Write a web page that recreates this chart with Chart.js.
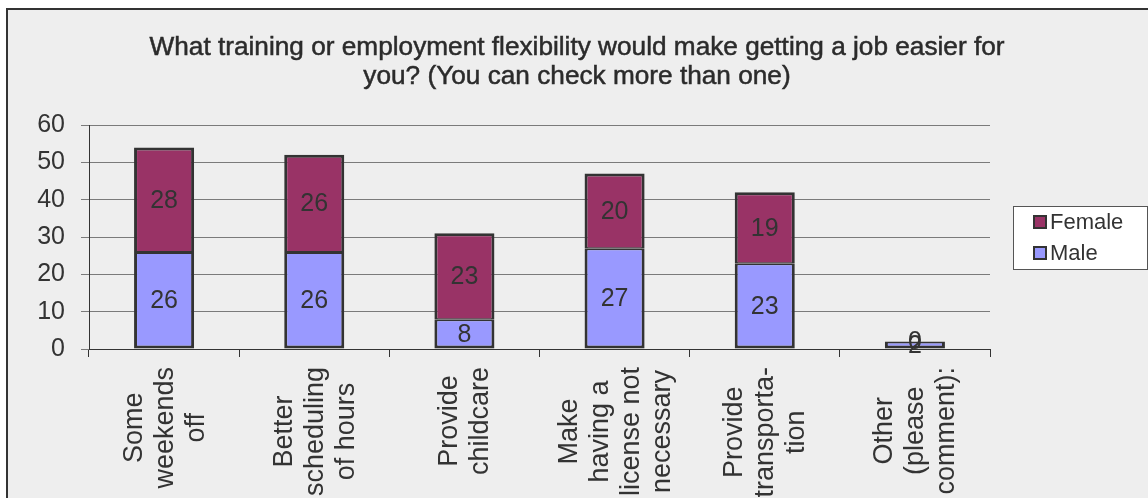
<!DOCTYPE html>
<html><head><meta charset="utf-8">
<script src="https://cdn.jsdelivr.net/npm/chart.js@4.4.1/dist/chart.umd.min.js"></script>
<style>
html,body{margin:0;padding:0;background:#fff;}
#wrap{position:relative;width:1148px;height:498px;overflow:hidden;}
#panel{position:absolute;left:6px;top:8px;width:1200px;height:600px;background:#eeeeee;border-top:2px solid #333;border-left:2px solid #333;}
canvas{position:absolute;left:0;top:0;}
</style></head><body>
<div id="wrap"><div id="panel"></div><canvas id="c" width="1148" height="498"></canvas></div>
<script>
const categories = [["Some","weekends","off"],["Better","scheduling","of hours"],["Provide","childcare"],["Make","having a","license not","necessary"],["Provide","transporta-","tion"],["Other","(please","comment):"]];
const maleValues = [26,26,8,27,23,2];
const femaleValues = [28,26,23,20,19,0];
const yTickValues = [0,10,20,30,40,50,60];
const titleLines = ["What training or employment flexibility would make getting a job easier for","you? (You can check more than one)"];
const seriesNames = ["Male","Female"];
const seriesColors = ["#9999ff","#993366"];

const FONT = "'Liberation Sans', Arial, sans-serif";
const TEXT = "#333333";

const titleDraw = {
  id: 'titleDraw',
  afterDraw(chart) {
    const ctx = chart.ctx;
    ctx.save();
    ctx.font = "26px " + FONT;
    ctx.fillStyle = "#2b2b2b";
    ctx.strokeStyle = "#2b2b2b";
    ctx.lineWidth = 0.5;
    ctx.textAlign = 'center';
    ctx.textBaseline = 'middle';
    const w0 = ctx.measureText(titleLines[0]).width;
    const sx = 855 / w0;
    const cx = 577;
    titleLines.forEach((t, i) => {
      ctx.save();
      ctx.translate(cx, 48 + i * 29);
      ctx.scale(sx, 1);
      ctx.fillText(t, 0, 0);
      ctx.strokeText(t, 0, 0);
      ctx.restore();
    });
    ctx.restore();
  }
};

const dataLabels = {
  id: 'dataLabels',
  afterDatasetsDraw(chart) {
    const ctx = chart.ctx;
    ctx.save();
    ctx.font = "25px " + FONT;
    ctx.fillStyle = TEXT;
    ctx.textAlign = 'center';
    ctx.textBaseline = 'middle';
    chart.data.datasets.forEach((ds, di) => {
      const meta = chart.getDatasetMeta(di);
      meta.data.forEach((el, i) => {
        const v = ds.data[i];
        const cy = (el.y + el.base) / 2;
        ctx.fillText(String(v), el.x, cy + 1);
      });
    });
    ctx.restore();
  }
};

const xLabels = {
  id: 'xLabels',
  afterDraw(chart) {
    const ctx = chart.ctx;
    const xs = chart.scales.x;
    const top = chart.chartArea.bottom + 18;
    const lh = 31;
    ctx.save();
    ctx.font = "27px " + FONT;
    ctx.fillStyle = TEXT;
    ctx.textAlign = 'center';
    ctx.textBaseline = 'middle';
    chart.data.labels.forEach((lines, i) => {
      const x = xs.getPixelForValue(i);
      const maxW = Math.max(...lines.map(l => ctx.measureText(l).width));
      const cy = top + maxW / 2;
      const n = lines.length;
      ctx.save();
      ctx.translate(x, cy);
      ctx.rotate(-Math.PI / 2);
      lines.forEach((l, j) => {
        ctx.fillText(l, 0, (j - (n - 1) / 2) * lh + 1);
      });
      ctx.restore();
    });
    ctx.restore();
  }
};

const legendBox = {
  id: 'legendBox',
  afterDraw(chart) {
    const ctx = chart.ctx;
    const bx = 1013.5, by = 206.5, bw = 134, bh = 63;
    ctx.save();
    ctx.fillStyle = '#ffffff';
    ctx.fillRect(bx, by, bw, bh);
    ctx.strokeStyle = '#555555';
    ctx.lineWidth = 1;
    ctx.strokeRect(bx, by, bw, bh);
    ctx.font = "22px " + FONT;
    ctx.textBaseline = 'middle';
    ctx.textAlign = 'left';
    const order = chart.data.datasets.map((d, i) => i).reverse();
    order.forEach((di, k) => {
      const ds = chart.data.datasets[di];
      const cy = 222 + k * 31;
      ctx.fillStyle = ds.backgroundColor;
      ctx.fillRect(1034, cy - 6, 12, 12);
      ctx.strokeStyle = '#333333';
      ctx.lineWidth = 2;
      ctx.strokeRect(1034, cy - 6, 12, 12);
      ctx.fillStyle = TEXT;
      ctx.fillText(ds.label, 1050, cy + 1);
    });
    ctx.restore();
  }
};

new Chart(document.getElementById('c'), {
  type: 'bar',
  data: {
    labels: categories,
    datasets: [
      { label: seriesNames[0], data: maleValues, backgroundColor: seriesColors[0], borderColor: '#333333', borderWidth: { left: 3, right: 3, bottom: 3, top: 2 }, borderSkipped: false, barPercentage: 0.4, categoryPercentage: 1 },
      { label: seriesNames[1], data: femaleValues, backgroundColor: seriesColors[1], borderColor: '#333333', borderWidth: { left: 3, right: 3, bottom: 1, top: 3 }, borderSkipped: false, barPercentage: 0.4, categoryPercentage: 1 }
    ]
  },
  options: {
    responsive: false,
    animation: false,
    events: [],
    layout: { padding: { left: 0, right: 158, top: 125, bottom: 0 } },
    plugins: {
      legend: { display: false },
      tooltip: { enabled: false },
      title: { display: false }
    },
    scales: {
      x: {
        stacked: true,
        offset: true,
        grid: { display: true, drawOnChartArea: false, drawTicks: true, tickLength: 8, color: '#333333', offset: true },
        border: { display: true, color: '#333333', width: 1 },
        ticks: { display: false },
        afterFit(s) { s.height = 149; }
      },
      y: {
        stacked: true,
        min: 0, max: 60,
        afterBuildTicks(s) { s.ticks = yTickValues.map(v => ({ value: v })); },
        grid: { color: '#7a7a7a', lineWidth: 1, drawTicks: true, tickLength: 8 },
        border: { display: true, color: '#333333', width: 1 },
        ticks: { color: TEXT, font: { family: FONT, size: 25 }, padding: 16 },
        afterFit(s) { s.width = 89; }
      }
    }
  },
  plugins: [dataLabels, xLabels, legendBox, titleDraw]
});
</script>
</body></html>
